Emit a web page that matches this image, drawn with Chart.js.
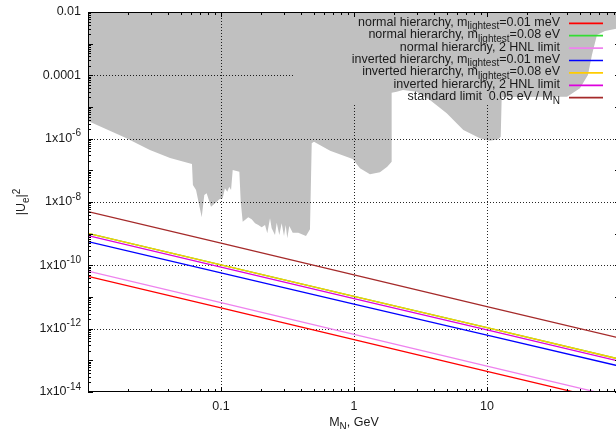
<!DOCTYPE html>
<html><head><meta charset="utf-8">
<script src="https://cdn.jsdelivr.net/npm/chart.js@4.4.1/dist/chart.umd.min.js"></script>
<style>html,body{margin:0;padding:0;background:#fff;overflow:hidden;width:616px;height:429px}canvas{display:block}</style>
</head><body>
<canvas id="c" width="620" height="429"></canvas>
<script>
// ---- data ----
const massGeV = [0.01, 0.1, 1, 10, 100];
const nhLight001 = [4.5e-11, 4.5e-12, 4.5e-13, 4.5e-14, 4.5e-15];
const nhLight008 = [1.03e-9, 1.04e-10, 1.05e-11, 1.07e-12, 1.08e-13];
const nh2HNL     = [6.6e-11, 6.6e-12, 6.6e-13, 6.6e-14, 6.6e-15];
const ihLight001 = [5.6e-10, 5.8e-11, 6.0e-12, 6.3e-13, 6.5e-14];
const ihLight008 = [1.03e-9, 1.04e-10, 1.05e-11, 1.07e-12, 1.08e-13];
const ih2HNL     = [8.7e-10, 8.8e-11, 8.9e-12, 9.1e-13, 9.2e-14];
const standardLimit = [5e-9, 5e-10, 5e-11, 5e-12, 5e-13];

const excludedMass = [0.01, 0.0193, 0.0292, 0.0414, 0.0605, 0.0615, 0.0649, 0.0716, 0.0749, 0.078,
  0.0841, 0.0929, 0.0971, 0.103, 0.107, 0.1115, 0.1154, 0.119, 0.1225, 0.1374,
  0.1407, 0.1456, 0.1514, 0.1603, 0.170, 0.1803, 0.1907, 0.2022, 0.2143, 0.2229,
  0.2336, 0.2404, 0.2547, 0.2624, 0.2744, 0.2858, 0.2977, 0.3065, 0.315, 0.3263,
  0.346, 0.381, 0.4355, 0.4667, 0.481, 0.500, 0.661, 0.977, 1.109, 1.318,
  1.567, 1.778, 1.919, 1.919, 2.094, 2.335, 2.958, 3.724, 4.977, 6.637,
  8.85, 10.5, 12.17, 12.68, 12.9, 40.0, 50.0, 57.4, 61.5, 67.1, 77.1, 100];
const excludedU2 = [3.6e-6, 1.05e-6, 4.4e-7, 2.45e-7, 1.58e-7, 3.44e-8, 2.39e-8, 3.29e-9, 1.66e-8, 1.88e-8,
  7.11e-9, 1.02e-8, 1.22e-8, 1.31e-8, 2.71e-8, 2.11e-8, 3.04e-8, 2.39e-8, 1.03e-7, 9.06e-8,
  1.02e-8, 2.39e-9, 2.7e-9, 3.29e-9, 2.84e-9, 2.12e-9, 1.88e-9, 1.59e-9, 1.88e-9, 1.03e-9,
  3.06e-9, 1.48e-9, 9.08e-10, 2.22e-9, 9.08e-10, 2.12e-9, 8.44e-10, 1.88e-9, 7.15e-10, 1.75e-9,
  1.07e-9, 1.07e-9, 8.44e-10, 1.37e-9, 7.14e-7, 8.02e-7, 4.17e-7, 2.28e-7, 1.16e-7, 7.5e-8,
  8.67e-8, 1.30e-7, 1.88e-7, 2.83e-5, 3.04e-5, 3.44e-5, 3.04e-5, 1.66e-5, 6.32e-6, 1.88e-6,
  1.03e-6, 8.63e-7, 9.55e-7, 1.15e-6, 2.07e-5, 2.11e-5, 3.89e-5, 1.03e-4, 4.39e-4, 1.88e-3, 2.51e-3, 3.13e-3];

const xTickValues = [0.1, 1, 10];
const xTickLabels = ['0.1', '1', '10'];
const yTickValues = [1e-2, 1e-4, 1e-6, 1e-8, 1e-10, 1e-12, 1e-14];
const yTickLabels = ['0.01', '0.0001', '1x10^{-6}', '1x10^{-8}', '1x10^{-10}', '1x10^{-12}', '1x10^{-14}'];

const seriesLabels = [
  'normal hierarchy, m_{lightest}=0.01 meV',
  'normal hierarchy, m_{lightest}=0.08 eV',
  'normal hierarchy, 2 HNL limit',
  'inverted hierarchy, m_{lightest}=0.01 meV',
  'inverted hierarchy, m_{lightest}=0.08 eV',
  'inverted hierarchy, 2 HNL limit',
  'standard limit  0.05 eV / M_{N}'
];
const seriesValues = [nhLight001, nhLight008, nh2HNL, ihLight001, ihLight008, ih2HNL, standardLimit];
const seriesColors = ['#ff0000', '#33dd33', '#ee82ee', '#0000ff', '#ffcc00', '#dd00dd', '#a52a2a'];
const xTitle = 'M_{N}, GeV';
const yTitle = '|U_{e}|^{2}';

// ---- drawing helpers ----
const FONT = '"Liberation Sans", Arial, Helvetica, sans-serif';
const TEXT = '#1a1a1a';
const FS = 12.5;
function parseRich(s){
  const parts=[]; const re=/([_^])\{([^}]*)\}/g; let last=0,m;
  while((m=re.exec(s))){ if(m.index>last) parts.push({t:s.slice(last,m.index),k:0});
    parts.push({t:m[2],k:m[1]==='_'?1:-1}); last=re.lastIndex; }
  if(last<s.length) parts.push({t:s.slice(last),k:0});
  return parts;
}
function drawRich(ctx,s,x,y,align,size){
  const parts=parseRich(s); const small=size*0.8; let w=0;
  parts.forEach(p=>{ctx.font=(p.k?small:size)+'px '+FONT; p.w=ctx.measureText(p.t).width; w+=p.w;});
  let cx = align==='right'?x-w:(align==='center'?x-w/2:x);
  ctx.textBaseline='middle'; ctx.textAlign='left'; ctx.fillStyle=TEXT;
  parts.forEach(p=>{ctx.font=(p.k?small:size)+'px '+FONT;
    ctx.fillText(p.t,cx,y+(p.k===1?size*0.33:(p.k===-1?-size*0.42:0))); cx+=p.w;});
}

const keyRect = {x:293, y:0, w:330, h:105};

const axesPlugin = {
  id:'gnuplotAxes',
  afterDatasetDraw(chart,args){
    if(args.index!==seriesValues.length) return;
    const ctx=chart.ctx, ca=chart.chartArea, xs=chart.scales.x, ys=chart.scales.y;
    ctx.save();
    ctx.beginPath();
    ctx.rect(ca.left,ca.top,ca.right-ca.left,ca.bottom-ca.top);
    ctx.rect(keyRect.x,keyRect.y,keyRect.w,keyRect.h);
    ctx.clip('evenodd');
    ctx.setLineDash([1,2]); ctx.strokeStyle='rgba(0,0,0,0.85)'; ctx.lineWidth=1;
    xTickValues.forEach(v=>{const px=Math.round(xs.getPixelForValue(v))+0.5;
      ctx.beginPath(); ctx.moveTo(px,ca.top); ctx.lineTo(px,ca.bottom); ctx.stroke();});
    yTickValues.forEach(v=>{const py=Math.round(ys.getPixelForValue(v))+0.5;
      if(py<ca.top+2||py>ca.bottom-2) return;
      ctx.beginPath(); ctx.moveTo(ca.left,py); ctx.lineTo(ca.right,py); ctx.stroke();});
    ctx.restore();
  },
  afterDraw(chart){
    const ctx=chart.ctx, ca=chart.chartArea, xs=chart.scales.x, ys=chart.scales.y;
    ctx.save();
    ctx.strokeStyle='#000'; ctx.lineWidth=1; ctx.setLineDash([]);
    ctx.strokeRect(ca.left+0.5,ca.top+0.5,ca.right-ca.left-1,ca.bottom-ca.top-1);
    // ticks
    ctx.beginPath();
    for(let d=-2; d<=2; d++){
      for(let k=1;k<=9;k++){
        const v=k*Math.pow(10,d); if(v<xs.min*0.999||v>xs.max*1.001) continue;
        const px=Math.round(xs.getPixelForValue(v))+0.5; const len=(k===1)?5:3;
        ctx.moveTo(px,ca.bottom); ctx.lineTo(px,ca.bottom-len);
        ctx.moveTo(px,ca.top); ctx.lineTo(px,ca.top+len);
      }
    }
    for(let d=-14; d<=-2; d++){
      for(let k=1;k<=9;k++){
        const v=k*Math.pow(10,d); if(v<ys.min*0.999||v>ys.max*1.001) continue;
        const py=Math.round(ys.getPixelForValue(v))+0.5; const len=(k===1)?5:3;
        ctx.moveTo(ca.left,py); ctx.lineTo(ca.left+len,py);
        ctx.moveTo(ca.right,py); ctx.lineTo(ca.right-len,py);
      }
    }
    ctx.stroke();
    // tick labels
    yTickValues.forEach((v,i)=>{drawRich(ctx,yTickLabels[i],81,ys.getPixelForValue(v),'right',FS);});
    xTickValues.forEach((v,i)=>{drawRich(ctx,xTickLabels[i],xs.getPixelForValue(v),407,'center',FS);});
    // titles
    drawRich(ctx,xTitle,(ca.left+ca.right)/2,423,'center',FS);
    ctx.save(); ctx.translate(22,(ca.top+ca.bottom)/2); ctx.rotate(-Math.PI/2);
    drawRich(ctx,yTitle,0,0,'center',FS); ctx.restore();
    // key
    seriesLabels.forEach((lab,i)=>{
      const y=23.3+i*12.4;
      drawRich(ctx,lab,560,y-1,'right',FS);
      ctx.strokeStyle=seriesColors[i]; ctx.lineWidth=1.7;
      ctx.beginPath(); ctx.moveTo(569,y); ctx.lineTo(603,y); ctx.stroke();
    });
    ctx.restore();
  }
};

const datasets = seriesValues.map((vals,i)=>({
  label: seriesLabels[i],
  data: massGeV.map((m,j)=>({x:m,y:vals[j]})),
  borderColor: seriesColors[i], borderWidth: 1.3, pointRadius: 0, fill: false,
  order: 10 - i
}));
datasets.push({
  label: 'excluded',
  data: excludedMass.map((m,j)=>({x:m,y:excludedU2[j]})),
  borderColor: 'rgba(0,0,0,0)', borderWidth: 0, backgroundColor: '#c0c0c0',
  pointRadius: 0, fill: 'end', order: 100
});

new Chart(document.getElementById('c'), {
  type: 'line',
  data: { datasets },
  options: {
    responsive: false, animation: false,
    layout: { padding: { left: 88, right: 0, top: 12, bottom: 37 } },
    scales: {
      x: { type: 'logarithmic', min: 0.01, max: 100, display: false },
      y: { type: 'logarithmic', min: 1e-14, max: 1e-2, display: false }
    },
    plugins: { legend: { display: false }, tooltip: { enabled: false } },
    elements: { line: { tension: 0 } }
  },
  plugins: [axesPlugin]
});
</script>
</body></html>
